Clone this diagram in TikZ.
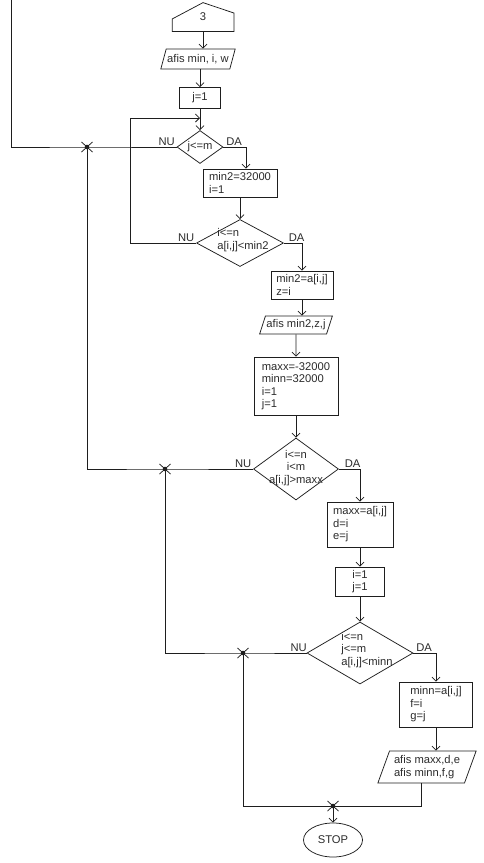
\documentclass[tikz,border=0pt]{standalone}
\usepackage{fontspec}
\setmainfont{Liberation Sans}
\usepackage{xcolor}
\usepackage{tikz}
\usetikzlibrary{arrows.meta,positioning,calc,shapes.geometric}
\definecolor{fline}{HTML}{1E1E1E}
\definecolor{ftext}{HTML}{2B2B2B}

\tikzset{
  box/.style={draw=fline,rectangle,inner sep=2pt,align=left},
  io/.style={draw=fline,trapezium,trapezium left angle=65,trapezium right angle=115,
    trapezium stretches body,inner xsep=1pt,inner ysep=1pt,align=left},
  dec/.style={draw=fline,diamond,inner sep=0pt},
  term/.style={draw=fline,ellipse,inner sep=0pt},
  lbl/.style={inner sep=1.5pt},
  jmark/.pic={\draw[fline] (-5.5,-5) -- (5.5,5) (-5.5,5) -- (5.5,-5); \fill[fline] (0,0) circle (2.3);}
}

\begin{document}
\begin{tikzpicture}[x=1pt,y=-1pt,line width=0.75pt,>={Straight Barb[length=4pt,width=8pt]},
  every node/.style={font=\fontsize{11.2}{12.5}\selectfont,text=ftext}]
  \useasboundingbox (0,0) rectangle (484,863);
  % start: connector 3
  \node[minimum width=61,minimum height=28,inner sep=0pt] (conn) at (203,17) {3};
  \draw[fline] (conn.south west) -- ([yshift=-2]conn.west) -- (conn.north) -- ([yshift=4]conn.east) -- (conn.south east) -- cycle;
  \node[io,minimum height=20] (io1) at (198,59) {afis min, i, w};
  \node[box,minimum width=41,minimum height=21] (b1) at (200,98) {j=1};
  \node[dec,minimum width=46,minimum height=33] (d1) at (200,147) {};
  \node (d1t) at (d1) {j<=m};
  \node[lbl,anchor=south east] (nu1) at (d1.west) {NU};
  \node[lbl,anchor=south west,xshift=1] (da1) at (d1.east) {DA};
  % inner loop on i
  \node[box,minimum width=74,minimum height=28] (b2) at (240,183) {min2=32000\\i=1};
  \node[dec,minimum width=87,minimum height=47] (d2) at (240,243) {};
  \node[align=left] (d2t) at (243,240) {i<=n\\a[i,j]<min2};
  \node[lbl,anchor=south east] (nu2) at (d2.west) {NU};
  \node[lbl,anchor=south west,xshift=3] (da2) at (d2.east) {DA};
  \node[box,minimum width=62,minimum height=28] (b3) at (302,285) {min2=a[i,j]\\z=i};
  \node[io,minimum height=18] (io2) at (296,325) {afis min2,z,j};
  \node[box,minimum width=84,minimum height=58] (b4) at (296,386) {maxx=-32000\\minn=32000\\i=1\\j=1};
  % max
  \node[dec,minimum width=85,minimum height=62] (d3) at (296,469) {};
  \node[align=center] (d3t) at (296,468) {i<=n\\i<m\\a[i,j]>maxx};
  \node[lbl,anchor=south east] (nu3) at (d3.west) {NU};
  \node[lbl,anchor=south west,xshift=4] (da3) at (d3.east) {DA};
  \node[box,minimum width=66,minimum height=45] (b5) at (360,524.5) {maxx=a[i,j]\\d=i\\e=j};
  \node[box,align=center,minimum width=49,minimum height=29] (b6) at (360,581.5) {i=1\\j=1};
  % min
  \node[dec,minimum width=106,minimum height=62] (d4) at (360,653) {};
  \node[align=left] (d4t) at (367,650) {i<=n\\j<=m\\a[i,j]<minn};
  \node[lbl,anchor=south east,xshift=2] (nu4) at (d4.west) {NU};
  \node[lbl,anchor=south west,xshift=1] (da4) at (d4.east) {DA};
  \node[box,minimum width=73,minimum height=45] (b7) at (436,704.5) {minn=a[i,j]\\f=i\\g=j};
  \node[io,minimum height=32,inner xsep=4.5pt] (io3) at (427,767) {afis maxx,d,e\\afis minn,f,g};
  \node[term,minimum width=59,minimum height=34] (stop) at (333,840) {STOP};

  % junctions
  \coordinate (exit) at (11,0);
  \coordinate (loop1) at (200,118);
  \coordinate (j1) at (87,147);
  \coordinate (j2) at (165,469);
  \coordinate (j3) at (243,653);
  \coordinate (j4) at (333,806);

  \begin{scope}[draw=fline]
    \draw[->] (conn.south) -- (conn.south |- io1.north);
    \draw[->] (io1.south -| b1.north) -- (b1.north);
    \draw[->] (b1.south) -- (d1.north);
    \draw[->] (d1.east) -| ([xshift=6]b2.north);
    \draw[->] (b2.south) -- (d2.north);
    \draw[->] (d2.west) -- ++(-66,0) |- (loop1);
    \draw[->] (d2.east) -| (b3.north);
    \draw[->] (b3.south) -- (b3.south |- io2.north);
    \draw[->] (io2.south) -- (b4.north);
    \draw[->] (b4.south) -- (d3.north);
    \draw[->] (d3.east) -| (b5.north);
    \draw[->] (b5.south) -- (b6.north);
    \draw[->] (b6.south) -- (d4.north);
    \draw[->] (d4.east) -| (b7.north);
    \draw[->] (b7.south) -- (b7.south |- io3.north);
    \draw (io3.bottom side) |- (j4);
    \draw[->] (j4) -- (stop.north);
    % NU branches
    \draw (d1.west) -- (j1) -| (exit);
    \draw (d3.west) -- (j2) -| (j1);
    \draw (d4.west) -- (j3) -| (j2);
    \draw (j3) |- (j4);
  \end{scope}
  \pic at (j1) {jmark};
  \pic at (j2) {jmark};
  \pic at (j3) {jmark};
  \pic at (j4) {jmark};
\end{tikzpicture}
\end{document}
